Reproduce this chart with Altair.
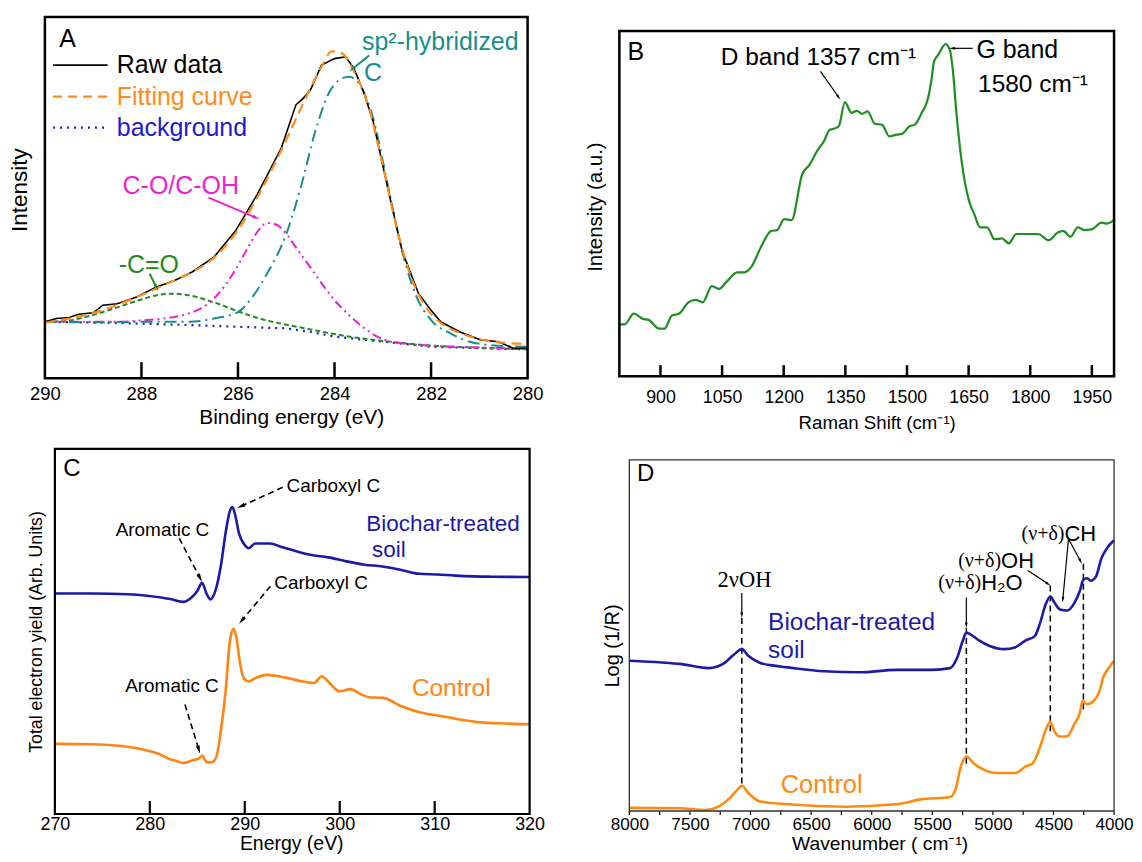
import math
import altair as alt
import pandas as pd

FONT = "Liberation Sans"
SERIF = "Liberation Serif"

# ---------------- Panel A : XPS C1s ----------------
A_RAW_X = [290.0, 289.76, 289.5, 289.3, 289.0, 288.8, 288.5, 288.1, 287.7, 287.3, 286.95, 286.5, 286.05,
           285.6, 285.1, 284.8, 284.65, 284.5, 284.27, 284.0, 283.77, 283.6, 283.4, 283.2, 282.9, 282.6,
           282.26, 282.0, 281.8, 281.4, 280.97, 280.6, 280.3, 280.0]
A_RAW_Y = [15.6, 16.5, 16.8, 17.7, 18.1, 20.2, 20.6, 22.5, 25.2, 27.1, 29.4, 33.5, 40.8,
           50.9, 63.8, 75.7, 77.5, 79.8, 86.7, 88.5, 89.0, 85.8, 79.4, 71.1, 52.8, 35.3,
           23.4, 18.8, 15.6, 12.8, 10.6, 10.1, 8.3, 8.3]
A_FIT_X = [290.0, 289.5, 289.0, 288.5, 288.0, 287.5, 287.0, 286.5, 286.0, 285.5, 285.0, 284.6, 284.3,
           284.05, 283.85, 283.6, 283.3, 283.0, 282.7, 282.4, 282.1, 281.8, 281.4, 281.0, 280.5, 280.0]
A_FIT_Y = [15.4, 16.5, 18.0, 20.3, 23.0, 26.0, 29.0, 33.3, 41.0, 52.5, 66.0, 77.5, 85.5,
           90.5, 90.0, 85.0, 75.5, 59.0, 41.0, 27.5, 19.5, 15.3, 12.5, 10.8, 9.8, 9.5]
A_BG_X = [290.0, 289.0, 288.0, 287.0, 286.0, 285.0, 284.5, 284.0, 283.5, 283.0, 282.5, 282.0, 281.0, 280.0]
A_BG_Y = [15.6, 15.4, 15.1, 14.7, 14.2, 13.8, 12.8, 11.5, 10.8, 10.1, 9.4, 8.7, 8.3, 8.0]
A_CO_X = [290.0, 289.5, 289.0, 288.5, 288.0, 287.7, 287.4, 287.0, 286.5, 286.0, 285.5, 285.0, 284.5,
          284.0, 283.5, 283.0, 282.5, 282.0, 281.0, 280.0]
A_CO_Y = [15.6, 16.0, 17.5, 19.6, 21.8, 22.9, 23.4, 22.9, 21.0, 18.5, 16.3, 14.8, 13.5,
          12.2, 11.1, 10.3, 9.6, 9.0, 8.4, 8.0]
A_COH_X = [290.0, 289.0, 288.5, 288.0, 287.5, 287.0, 286.7, 286.4, 286.1, 285.8, 285.6, 285.4, 285.2,
           285.0, 284.8, 284.5, 284.2, 284.0, 283.7, 283.4, 283.0, 282.5, 282.0, 281.0, 280.0]
A_COH_Y = [15.6, 15.6, 15.6, 16.0, 16.6, 18.0, 19.8, 23.5, 29.0, 36.0, 40.5, 43.0, 42.5,
           40.0, 36.2, 30.7, 25.0, 21.6, 17.5, 14.0, 10.8, 9.5, 9.0, 8.5, 8.2]
A_SP2_X = [290.0, 289.0, 288.0, 287.0, 286.5, 286.0, 285.7, 285.4, 285.0, 284.7, 284.4, 284.1, 283.9,
           283.7, 283.5, 283.2, 282.9, 282.6, 282.3, 282.0, 281.6, 281.2, 280.8, 280.0]
A_SP2_Y = [15.6, 15.5, 15.6, 15.6, 16.5, 18.3, 22.5, 28.9, 39.9, 52.8, 68.3, 79.4, 82.6,
           83.5, 81.7, 72.0, 53.7, 35.3, 22.5, 16.1, 12.4, 10.1, 9.2, 8.7]
A_TICKS = [290, 288, 286, 284, 282, 280]
A_INNER_TICKS = [288, 286, 284, 282]
A_LEGEND = ["Raw data", "Fitting curve", "background"]

# ---------------- Panel B : Raman ----------------
B_X = [800, 813, 835, 857, 871, 897, 910, 928, 945, 968, 985, 1003, 1025, 1043, 1060, 1087, 1104, 1122,
       1144, 1170, 1184, 1201, 1219, 1245, 1263, 1281, 1298, 1312, 1320, 1334, 1349, 1365, 1378, 1391,
       1404, 1422, 1439, 1457, 1475, 1488, 1506, 1519, 1536, 1550, 1559, 1566, 1576, 1594, 1603, 1612,
       1620, 1633, 1651, 1664, 1678, 1695, 1713, 1731, 1748, 1766, 1792, 1819, 1845, 1867, 1880, 1898,
       1916, 1933, 1951, 1973, 1986, 2004]
B_Y = [15.0, 15.0, 18.1, 16.6, 16.3, 13.75, 13.75, 17.6, 18.1, 21.4, 22.1, 21.4, 26.1, 25.3, 27.2, 30.1,
       30.1, 31.8, 37.3, 42.1, 42.3, 45.5, 45.2, 58.5, 61.3, 65.2, 68.1, 71.4, 71.6, 72.4, 79.4, 76.3,
       76.9, 76.0, 76.7, 73.1, 72.9, 69.5, 70.0, 70.2, 72.4, 72.9, 76.3, 80.0, 85.4, 91.2, 93.1, 96.2,
       95.0, 88.3, 76.7, 62.3, 50.8, 46.9, 43.1, 43.1, 39.7, 39.9, 38.5, 41.2, 41.2, 41.2, 39.4, 41.6,
       42.1, 40.4, 43.1, 42.3, 42.6, 44.5, 44.2, 45.2]
B_TICKS = [900, 1050, 1200, 1350, 1500, 1650, 1800, 1950]

# ---------------- Panel C : NEXAFS ----------------
C_BIO_X = [270, 273.9, 277.7, 279.7, 281.2, 282.3, 283.5, 284.3, 285.0, 285.5, 286.0, 286.4, 286.9, 287.5,
           288.0, 288.4, 288.7, 289.0, 289.4, 290.0, 290.4, 291.1, 292.7, 293.8, 295.0, 296.9, 298.8,
           300.7, 302.6, 304.5, 306.4, 308.4, 310.3, 312.2, 314.1, 316.0, 320]
C_BIO_Y = [60.4, 60.4, 60.2, 59.8, 59.3, 58.8, 58.1, 59.1, 61.1, 63.3, 60.2, 58.8, 61.1, 68.3,
           77.3, 82.7, 84.1, 81.8, 76.8, 73.7, 72.8, 74.1, 74.1, 73.2, 72.3, 71.0, 70.3,
           69.2, 68.3, 67.8, 66.9, 65.8, 65.6, 65.3, 65.1, 65.0, 64.9]
C_CON_X = [270, 273.9, 277, 279.7, 281.2, 282.0, 282.7, 283.5, 284.4, 285.2, 285.5, 286.0, 286.5, 287.0,
           287.5, 288.0, 288.4, 288.8, 289.1, 289.5, 289.9, 290.4, 291.1, 292.3, 293.4, 294.6, 296.1,
           297.3, 298.1, 298.6, 299.4, 300.0, 301.1, 302.3, 303.1, 304.6, 306.5, 308.4, 310.3, 312.6,
           314.9, 317.2, 320]
C_CON_Y = [19.2, 19.1, 18.6, 17.4, 16.2, 15.1, 14.6, 14.0, 14.6, 15.3, 16.0, 14.2, 14.1, 15.6,
           23.2, 34.1, 46.7, 50.7, 48.6, 41.3, 37.2, 36.3, 37.2, 38.1, 37.8, 37.2, 36.3,
           35.9, 37.7, 36.8, 34.6, 33.6, 34.2, 32.7, 32.0, 31.8, 29.5, 27.9, 27.0, 25.9,
           25.1, 24.8, 24.6]
C_TICKS = [270, 280, 290, 300, 310, 320]
C_INNER_TICKS = [280, 290, 300, 310]

# ---------------- Panel D : NIR ----------------
D_BIO_X = [8000, 7732, 7584, 7346, 7227, 7138, 7072, 7019, 6929, 6810, 6692, 6394, 6097, 5799, 5502,
           5353, 5294, 5249, 5219, 5175, 5115, 5026, 4907, 4818, 4729, 4654, 4610, 4565, 4526, 4491,
           4446, 4387, 4327, 4283, 4253, 4223, 4193, 4149, 4104, 4059, 4000]
D_BIO_Y = [42.8, 42.3, 41.9, 40.7, 41.9, 44.5, 46.1, 44.2, 42.3, 41.4, 40.9, 39.8, 39.5, 40.2, 40.2,
           40.7, 43.7, 48.4, 50.8, 50.1, 48.6, 47.0, 46.1, 46.6, 48.6, 49.8, 53.6, 58.8, 61.1, 59.3,
           57.4, 57.1, 59.3, 62.6, 65.9, 66.3, 65.6, 66.8, 72.0, 74.8, 77.1]
D_CON_X = [8000, 7584, 7376, 7257, 7167, 7108, 7072, 7019, 6929, 6692, 6216, 5799, 5591, 5353, 5309,
           5264, 5219, 5160, 5085, 4967, 4818, 4729, 4670, 4610, 4565, 4526, 4491, 4446, 4387, 4327,
           4283, 4259, 4223, 4164, 4119, 4089, 4045, 4000]
D_CON_Y = [0.9, 0.8, 0.3, 1.4, 3.8, 6.1, 7.2, 5.2, 2.8, 1.9, 1.2, 1.9, 3.3, 4.0, 6.1,
           12.7, 15.5, 13.6, 11.9, 10.8, 10.8, 12.7, 13.6, 18.3, 23.0, 25.4, 22.6, 21.2, 21.3, 24.8,
           27.8, 31.3, 30.4, 31.5, 34.3, 38.1, 40.7, 42.8]
D_TICKS = [8000, 7750, 7500, 7250, 7000, 6750, 6500, 6250, 6000, 5750, 5500, 5250, 5000, 4750, 4500,
           4250, 4000]
D_LABEL_TICKS = [8000, 7500, 7000, 6500, 6000, 5500, 5000, 4500, 4000]
D_MARKS = [7072, 5219, 4526, 4253]          # dashed guide positions
D_MARK_TOP = [55.0, 52.1, 64.2, 70.4]
D_MARK_BOT = [7.5, 12.7, 22.1, 28.7]

ARROW = "M0,-1L0.42,0.75L-0.42,0.75Z"


def xaxis(values, title, lpad, tpad, lsize, tsize, title_x=None):
    kw = dict(values=values, title=title, labelFontSize=lsize, titleFontSize=tsize,
              labelPadding=lpad, titlePadding=tpad, ticks=False, tickSize=0,
              domain=False, grid=False, labelFlush=False, labelOverlap=False, format="d",
              labelColor="black", titleColor="black", titleFontWeight="normal",
              labelFont=FONT, titleFont=FONT)
    if title_x is not None:
        kw["titleX"] = title_x
    return alt.Axis(**kw)


def yaxis(title, size, pad, title_y=None):
    kw = dict(title=title, labels=False, ticks=False, domain=False, grid=False,
              titleFontSize=size, titlePadding=pad, titleFontWeight="normal",
              titleColor="black", titleFont=FONT, minExtent=0, maxExtent=0)
    if title_y is not None:
        kw["titleY"] = title_y
    return alt.Axis(**kw)


class Panel:
    """W,H: cell size; frame (f0,g0,f1,g1) in px; xl/xr: data values at frame left/right."""

    def __init__(self, W, H, frame, xl, xr, ax, ay):
        self.W, self.H = W, H
        f0, g0, f1, g1 = frame
        self.frame = frame
        k = (xr - xl) / (f1 - f0)
        self.v0 = xl - f0 * k            # value at pixel 0
        self.vW = xr + (W - f1) * k      # value at pixel W
        lo, hi = min(self.v0, self.vW), max(self.v0, self.vW)
        self.sx = alt.Scale(domain=[lo, hi], reverse=self.v0 > self.vW, nice=False, zero=False)
        ky = 100 / (g1 - g0)
        self.yt = 100 + g0 * ky          # value at pixel 0 (top)
        self.yb = -(H - g1) * ky         # value at pixel H (bottom)
        self.sy = alt.Scale(domain=[self.yb, self.yt], nice=False, zero=False)
        self.ax, self.ay = ax, ay
        self.layers = []

    def X(self, f="x"):
        return alt.X(f"{f}:Q", scale=self.sx, axis=self.ax)

    def Y(self, f="y"):
        return alt.Y(f"{f}:Q", scale=self.sy, axis=self.ay)

    def px(self, v):
        return (v - self.v0) / (self.vW - self.v0) * self.W

    def py(self, v):
        return (self.yt - v) / (self.yt - self.yb) * self.H

    def ix(self, p):
        return self.v0 + p / self.W * (self.vW - self.v0)

    def iy(self, p):
        return self.yt - p / self.H * (self.yt - self.yb)

    def line(self, xv, yv, color, width=2.0, dash=None, interp="linear"):
        kw = dict(color=color, strokeWidth=width, interpolate=interp)
        if dash:
            kw["strokeDash"] = dash
        df = pd.DataFrame({"x": xv, "y": yv})
        self.layers.append(alt.Chart(df).mark_line(**kw).encode(x=self.X(), y=self.Y()))

    def seg(self, x0, y0, x1, y1, color="black", width=1.2, dash=None):
        kw = dict(color=color, strokeWidth=width)
        if dash:
            kw["strokeDash"] = dash
        df = pd.DataFrame({"x": [x0], "y": [y0], "x2": [x1], "y2": [y1]})
        self.layers.append(alt.Chart(df).mark_rule(**kw).encode(
            x=self.X(), y=self.Y(), x2="x2:Q", y2="y2:Q"))

    def arrow(self, x0, y0, x1, y1, color="black", width=1.2, dash=None, head=60):
        p0x, p0y = self.px(x0), self.py(y0)
        p1x, p1y = self.px(x1), self.py(y1)
        dx, dy = p1x - p0x, p1y - p0y
        L = math.hypot(dx, dy)
        ux, uy = dx / L, dy / L
        r = math.sqrt(head) / 2
        hx, hy = p1x - ux * r, p1y - uy * r
        ang = math.degrees(math.atan2(ux, -uy)) % 360
        self.seg(x0, y0, self.ix(hx), self.iy(hy), color, width, dash)
        df = pd.DataFrame({"x": [self.ix(hx)], "y": [self.iy(hy)]})
        self.layers.append(alt.Chart(df).mark_point(
            shape=ARROW, filled=True, size=head, angle=round(ang, 2), color=color,
            opacity=1, strokeWidth=0).encode(x=self.X(), y=self.Y()))

    def text(self, x, y, s, color="black", size=18, align="left", font=FONT):
        df = pd.DataFrame({"x": [x], "y": [y], "t": [s]})
        self.layers.append(alt.Chart(df).mark_text(
            align=align, baseline="middle", fontSize=size, font=font, color=color).encode(
            x=self.X(), y=self.Y(), text="t:N"))

    def ticks(self, vals, y0, y1, width):
        df = pd.DataFrame({"x": vals})
        self.layers.append(alt.Chart(df).mark_rule(color="black", strokeWidth=width).encode(
            x=self.X(), y=alt.value(y0), y2=alt.value(y1)))

    def spacer(self, xp, yp):
        df = pd.DataFrame({"x": [0]})
        self.layers.append(alt.Chart(df).mark_rule(color="white", strokeWidth=1).encode(
            x=alt.value(xp), y=alt.value(yp), y2=alt.value(yp + 1)))

    def chart(self, stroke_w, stroke_c="black"):
        f0, g0, f1, g1 = self.frame
        df = pd.DataFrame({"x": [0]})
        box = alt.Chart(df).mark_rect(fill="white", fillOpacity=0, stroke=stroke_c,
                                      strokeWidth=stroke_w).encode(
            x=alt.value(f0), x2=alt.value(f1), y=alt.value(g0), y2=alt.value(g1))
        return alt.layer(*self.layers, box).properties(
            width=self.W, height=self.H,
            view=alt.ViewBackground(stroke="transparent", fill="white"))


WL, WR, HT, HB = 486, 496, 362, 366

# ---------- A ----------
ORANGE_A = "#FF8C1A"
BLUE_A = "#1C1CCC"
TEAL = "#178E8C"
MAGENTA = "#F01ED2"
GREEN_A = "#1F8C1F"

pA = Panel(WL, HT, (0, 0, 484, 362), 290, 280,
           xaxis(A_TICKS, "Binding energy (eV)", 6, 4, 18.5, 21, 247),
           yaxis("Intensity", 22.5, 13, 173))
pA.spacer(0, -7)
pA.line(A_BG_X, A_BG_Y, BLUE_A, 2.2, [2, 5])
pA.line(A_CO_X, A_CO_Y, GREEN_A, 2.0, [5, 3], "monotone")
pA.line(A_COH_X, A_COH_Y, MAGENTA, 2.0, [9, 4, 2, 4, 2, 4], "monotone")
pA.line(A_SP2_X, A_SP2_Y, TEAL, 2.0, [12, 5, 2, 5], "monotone")
pA.line(A_RAW_X, A_RAW_Y, "black", 1.6)
pA.line(A_FIT_X, A_FIT_Y, ORANGE_A, 2.2, [10, 6], "monotone")
pA.ticks(A_INNER_TICKS, 362, 346, 2.5)
pA.text(289.53, 94.0, "A", size=25, align="center")
pA.seg(289.83, 86.7, 288.70, 86.7, "black", 1.8)
pA.seg(289.83, 78.0, 288.70, 78.0, ORANGE_A, 2.2, [9, 6])
pA.seg(289.83, 69.4, 288.70, 69.4, BLUE_A, 2.2, [2, 5])
pA.text(288.51, 86.7, A_LEGEND[0], "black", 25)
pA.text(288.51, 78.0, A_LEGEND[1], ORANGE_A, 25)
pA.text(288.51, 69.4, A_LEGEND[2], BLUE_A, 25)
pA.text(283.43, 93.1, "sp²-hybridized", TEAL, 25)
pA.text(283.39, 84.4, "C", TEAL, 25)
pA.arrow(283.28, 89.4, 283.70, 84.9, TEAL, 2.0, None, 70)
pA.text(288.39, 53.2, "C-O/C-OH", MAGENTA, 25)
pA.arrow(286.61, 50.0, 285.55, 44.0, MAGENTA, 2.0, None, 70)
pA.text(288.47, 31.2, "-C=O", GREEN_A, 25)
pA.arrow(287.83, 28.9, 287.65, 24.1, GREEN_A, 2.0, None, 60)
chartA = pA.chart(2.5)

# ---------- B ----------
GREEN_B = "#1F8F1F"
pB = Panel(WR, HT, (0, 14, 496, 360), 800, 2004,
           xaxis(B_TICKS, "Raman Shift (cm⁻¹)", 10, 8, 17.8, 18.7, 258),
           yaxis("Intensity (a.u.)", 20.5, 13.5, 190))
pB.line(B_X, B_Y, GREEN_B, 2.2, None, "monotone")
pB.ticks(B_TICKS, 360, 349, 2.5)
pB.text(840, 94.0, "B", size=25, align="center")
pB.text(1047, 92.1, "D band 1357 cm⁻¹", size=24.5)
pB.arrow(1289.5, 88.3, 1338, 80.1, "black", 1.2, None, 45)
pB.text(1669, 94.5, "G band", size=25)
pB.arrow(1660, 95.0, 1602.6, 95.0, "black", 1.2, None, 45)
pB.text(1673, 84.4, "1580 cm⁻¹", size=24.5)
chartB = pB.chart(2.5)

# ---------- C ----------
BLUE_C = "#1A1AA6"
ORANGE_C = "#FF8411"
pC = Panel(WL, HB, (10, 0, 486, 366), 270, 320,
           xaxis(C_TICKS, "Energy (eV)", 2, 1, 18, 19.5, 247),
           yaxis("Total electron yield (Arb. Units)", 17.8, -1))
pC.line(C_BIO_X, C_BIO_Y, BLUE_C, 2.6, None, "monotone")
pC.line(C_CON_X, C_CON_Y, ORANGE_C, 2.6, None, "monotone")
pC.ticks(C_INNER_TICKS, 366, 353, 2.2)
pC.text(271.8, 94.4, "C", size=24, align="center")
pC.text(294.4, 89.9, "Carboxyl C", size=19)
pC.arrow(294.0, 89.5, 289.2, 83.8, "black", 1.6, [6, 4], 90)
pC.text(276.4, 77.7, "Aromatic C", size=19)
pC.arrow(283.1, 75.5, 285.5, 63.6, "black", 1.6, [6, 4], 90)
pC.text(302.8, 79.5, "Biochar-treated", BLUE_C, 22.5)
pC.text(303.4, 72.3, "soil", BLUE_C, 22.5)
pC.text(293.1, 63.3, "Carboxyl C", size=19)
pC.arrow(292.7, 62.4, 289.4, 52.1, "black", 1.6, [6, 4], 90)
pC.text(277.4, 35.0, "Aromatic C", size=19)
pC.arrow(283.7, 30.0, 285.3, 16.5, "black", 1.6, [6, 4], 90)
pC.text(307.6, 34.1, "Control", ORANGE_C, 24.5)
chartC = pC.chart(2.2)

# ---------- D ----------
BLUE_D = "#1B1BA3"
ORANGE_D = "#FF8A10"
pD = Panel(WR, HB, (10, 11, 496, 363), 8000, 4000,
           xaxis(D_LABEL_TICKS, "Wavenumber ( cm⁻¹)", 2, 1, 17.2, 19.3, 261),
           yaxis("Log (1/R)", 20, -3, 197))
for xm, yt, yb in zip(D_MARKS, D_MARK_TOP, D_MARK_BOT):
    pD.seg(xm, yt, xm, yb, "black", 1.5, [6, 4])
pD.line(D_BIO_X, D_BIO_Y, BLUE_D, 2.6, None, "monotone")
pD.line(D_CON_X, D_CON_Y, ORANGE_D, 2.6, None, "monotone")
pD.ticks(D_TICKS, 363, 367, 1.2)
pD.text(7866, 96.0, "D", size=24, align="center")
pD.text(7050, 65.9, "2νOH", size=22.5, align="center", font=SERIF)
pD.arrow(7072, 62.1, 7072, 55.0, "black", 1.2, None, 40)
pD.text(5096, 64.8, "(ν+δ)", size=20, align="right", font=SERIF)
pD.text(5096, 64.8, "H₂O", size=22)
pD.arrow(5219, 60.8, 5219, 52.1, "black", 1.2, None, 40)
pD.text(4932, 71.3, "(ν+δ)", size=20, align="right", font=SERIF)
pD.text(4932, 71.3, "OH", size=22)
pD.arrow(4712, 68.5, 4524, 64.2, "black", 1.2, None, 40)
pD.text(4409, 78.9, "(ν+δ)", size=20, align="right", font=SERIF)
pD.text(4409, 78.9, "CH", size=22)
pD.arrow(4376, 77.5, 4425, 59.4, "black", 1.2, None, 40)
pD.arrow(4376, 77.5, 4265, 70.4, "black", 1.2, None, 40)
pD.text(6855, 53.6, "Biochar-treated", BLUE_D, 24.5)
pD.text(6855, 45.6, "soil", BLUE_D, 24.5)
pD.text(6751, 7.5, "Control", ORANGE_D, 25.5)
chartD = pD.chart(1.3, "#333333")

chart = alt.concat(chartA, chartB, chartC, chartD, columns=2, align="each",
                   spacing=alt.RowColnumber(row=14, column=40)).properties(
    padding=0, background="white"
).configure(font=FONT)

chart.save("out.html", embed_options={"renderer": "svg", "actions": False})
